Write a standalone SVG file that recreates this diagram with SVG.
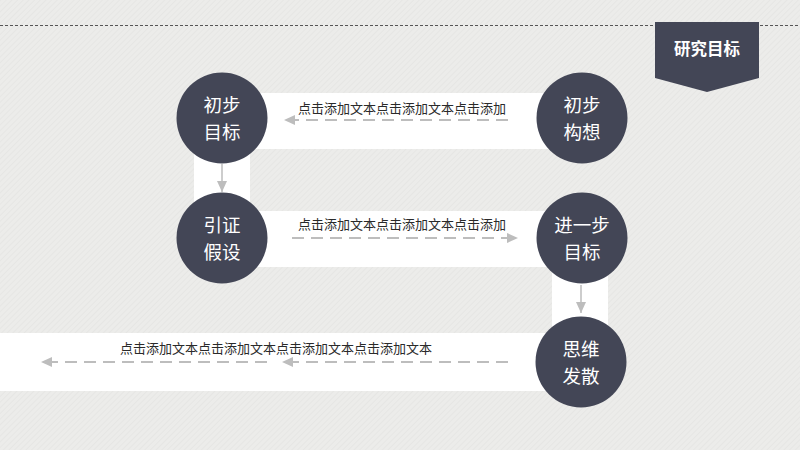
<svg xmlns="http://www.w3.org/2000/svg" width="800" height="450" viewBox="0 0 800 450">
<defs>
<pattern id="stripes" width="4" height="4" patternUnits="userSpaceOnUse" patternTransform="rotate(45)">
<rect width="4" height="4" fill="#ececea"/>
<line x1="0" y1="0" x2="0" y2="4" stroke="#e2e2e0" stroke-width="1.2"/>
</pattern>
<marker id="ah" markerUnits="userSpaceOnUse" markerWidth="12" markerHeight="12" viewBox="0 0 12 12" refX="11" refY="6" orient="auto">
<path d="M0,1 L11,6 L0,11 Z" fill="#bdbdbd"/>
</marker>
<style>
.band{fill:#ffffff}
.node circle{fill:#434656}
.node text{fill:#ffffff;font-family:"Noto Sans CJK SC","Liberation Sans",sans-serif;font-size:18.5px;text-anchor:middle}
.lbl{fill:#2a2a2a;font-family:"Noto Sans CJK SC","Liberation Sans",sans-serif;font-size:13px;text-anchor:middle}
.dash{stroke:#bdbdbd;stroke-width:2;stroke-dasharray:12 7;fill:none}
.solid{stroke:#bdbdbd;stroke-width:1.5;fill:none}
</style>
</defs>
<rect width="800" height="450" fill="url(#stripes)"/>
<line x1="0" y1="25.5" x2="800" y2="25.5" stroke="#555" stroke-width="1" stroke-dasharray="3 2"/>
<g id="badge">
<path d="M655,22 H759 V78 L707,92 L655,78 Z" fill="#434656"/>
<text x="707" y="55" fill="#ffffff" font-family="Noto Sans CJK SC, Liberation Sans, sans-serif" font-size="16.5" font-weight="bold" text-anchor="middle">研究目标</text>
</g>
<g id="bands">
<rect class="band" x="222" y="93" width="360" height="56"/>
<rect class="band" x="194" y="118" width="56" height="120"/>
<rect class="band" x="222" y="211" width="360" height="56"/>
<rect class="band" x="552" y="238" width="56" height="124"/>
<rect class="band" x="0" y="333" width="581" height="58"/>
</g>
<g id="connectors">
<line class="dash" x1="508" y1="120" x2="284" y2="120" marker-end="url(#ah)"/>
<line class="dash" x1="292" y1="238" x2="518" y2="238" marker-end="url(#ah)"/>
<line class="dash" x1="508" y1="362" x2="282" y2="362" marker-end="url(#ah)"/>
<line class="dash" x1="267" y1="362" x2="41" y2="362" marker-end="url(#ah)"/>
<line class="solid" x1="222" y1="164" x2="222" y2="192" marker-end="url(#ah)"/>
<line class="solid" x1="581" y1="285" x2="581" y2="313" marker-end="url(#ah)"/>
</g>
<g id="labels">
<text class="lbl" x="402" y="113">点击添加文本点击添加文本点击添加</text>
<text class="lbl" x="402" y="229">点击添加文本点击添加文本点击添加</text>
<text class="lbl" x="276" y="353">点击添加文本点击添加文本点击添加文本点击添加文本</text>
</g>
<g id="node-chubu-mubiao" class="node">
<circle cx="222" cy="118" r="45.5"/>
<text x="222" y="112">初步</text>
<text x="222" y="139">目标</text>
</g>
<g id="node-chubu-gouxiang" class="node">
<circle cx="582" cy="118" r="45.5"/>
<text x="582" y="112">初步</text>
<text x="582" y="139">构想</text>
</g>
<g id="node-yinzheng-jiashe" class="node">
<circle cx="222" cy="238" r="45.5"/>
<text x="222" y="232">引证</text>
<text x="222" y="259">假设</text>
</g>
<g id="node-jinyibu-mubiao" class="node">
<circle cx="582" cy="238" r="45.5"/>
<text x="582" y="232">进一步</text>
<text x="582" y="259">目标</text>
</g>
<g id="node-siwei-fasan" class="node">
<circle cx="581" cy="362" r="45.5"/>
<text x="581" y="356">思维</text>
<text x="581" y="383">发散</text>
</g>
</svg>
